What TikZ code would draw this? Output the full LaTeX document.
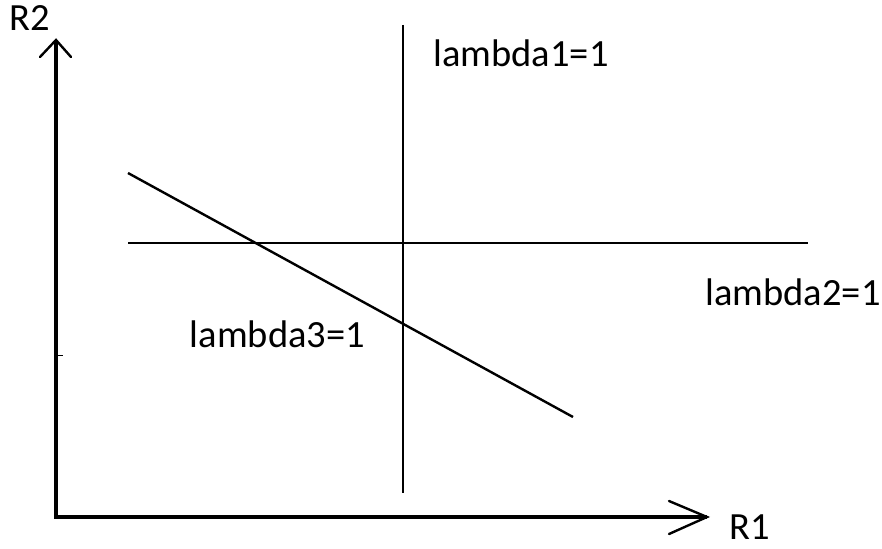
\documentclass[tikz,border=0pt]{standalone}
\usepackage{fontspec}
\setmainfont{Carlito}
\begin{document}
\begin{tikzpicture}[x=1pt,y=-1pt,
  axis/.style={line width=4.2pt},
  head/.style={line width=2.4pt},
  curve/.style={line width=2.4pt},
  lbl/.style={font=\fontsize{38.5}{44}\selectfont, inner sep=0pt, anchor=base}]
\useasboundingbox (0,0) rectangle (882,548);
\coordinate (O) at (56,517);
\coordinate (ytip) at (56,40);
\coordinate (xtip) at (707,517);
\draw[axis] (ytip) -- (O) -- (xtip);
\draw[head, line cap=round] (40,57) -- (ytip) -- (71,57);
\draw[head, line cap=round] (669,501) -- (xtip) -- (669,534);
\draw[line width=1pt] (58,355) -- (63,355);
\coordinate (v1) at (403,25);
\coordinate (v2) at (403,493);
\coordinate (h1) at (128,243);
\coordinate (h2) at (808,243);
\coordinate (d1) at (128,173);
\coordinate (d2) at (573,417);
\draw[curve] (v1) -- (v2);
\draw[curve] (h1) -- (h2);
\draw[curve] (d1) -- (d2);
\node[lbl] (r2) at (30,31) {R2};
\node[lbl] (r1) at (750,539) {R1};
\node[lbl] (l1) at (521,67) {lambda1=1};
\node[lbl] (l2) at (793,305) {lambda2=1};
\node[lbl] (l3) at (277.5,347) {lambda3=1};
\end{tikzpicture}
\end{document}
